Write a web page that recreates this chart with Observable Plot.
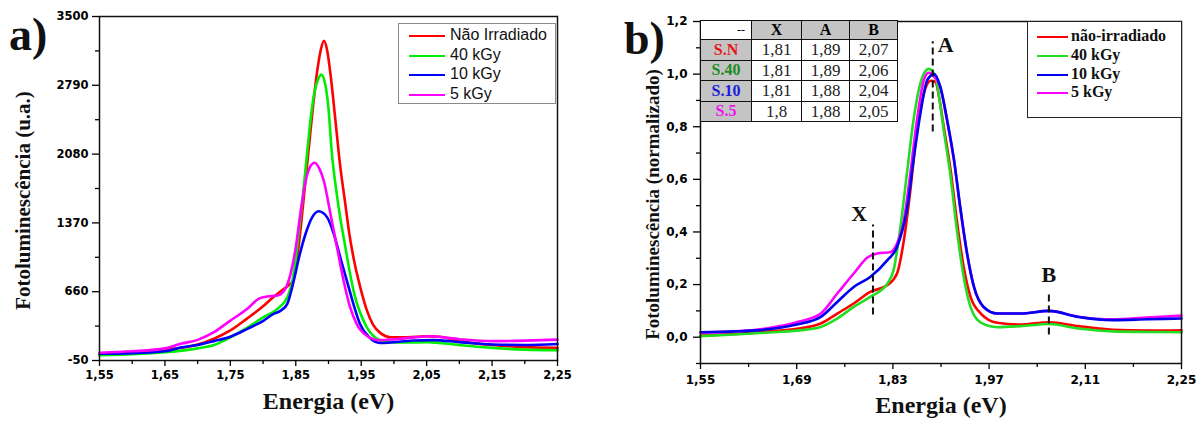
<!DOCTYPE html>
<html><head><meta charset="utf-8">
<script src="https://cdn.jsdelivr.net/npm/d3@7"></script>
<script src="https://cdn.jsdelivr.net/npm/@observablehq/plot@0.6"></script>
<style>
body{margin:0;background:#fff;}
#root{position:relative;width:1202px;height:426px;overflow:hidden;background:#fff;}
.panel{position:absolute;top:0;}
.plabel{position:absolute;font-family:"Liberation Serif",serif;font-weight:bold;font-size:46px;line-height:46px;color:#111;}
.leg{position:absolute;background:#fff;box-sizing:border-box;}
.ent{position:absolute;white-space:nowrap;}
.ent .ln{position:absolute;height:2px;}
.ent .tx{position:absolute;top:0;}
table.tb{position:absolute;left:700px;top:20px;border-collapse:collapse;font-family:"Liberation Serif",serif;background:#fff;}
table.tb td{border:1.5px solid #111;padding:0;text-align:center;vertical-align:middle;line-height:1;}
</style></head><body><div id="root"></div>
<script>
// ---------- Panel a data ----------
const aNames = ["Não Irradiado", "40 kGy", "10 kGy", "5 kGy"];
const aColors = ["#ff0000", "#00ee00", "#0000ff", "#ff00ff"];
const aXTicks = [1.55, 1.65, 1.75, 1.85, 1.95, 2.05, 2.15, 2.25];
const aXMinor = [1.60, 1.70, 1.80, 1.90, 2.00, 2.10, 2.20];
const aYTicks = [-50, 660, 1370, 2080, 2790, 3500];
const aYMinor = [305, 1015, 1725, 2435, 3145];

const aRedE = [1.55, 1.60, 1.65, 1.70, 1.725, 1.75, 1.775, 1.80, 1.815, 1.83, 1.838, 1.846, 1.852, 1.858, 1.864, 1.870, 1.876, 1.882, 1.888, 1.893, 1.898, 1.904, 1.911, 1.918, 1.925, 1.932, 1.94, 1.948, 1.958, 1.968, 1.98, 1.995, 2.02, 2.05, 2.07, 2.10, 2.15, 2.20, 2.25];
const aRedV = [15, 30, 60, 115, 175, 260, 380, 510, 600, 680, 720, 780, 1000, 1350, 1750, 2150, 2550, 2900, 3150, 3250, 3150, 2850, 2400, 1950, 1600, 1250, 950, 720, 480, 320, 230, 190, 190, 200, 195, 150, 110, 88, 80];

const aGreenE = [1.55, 1.60, 1.65, 1.70, 1.725, 1.75, 1.776, 1.80, 1.822, 1.837, 1.845, 1.85, 1.855, 1.86, 1.866, 1.872, 1.878, 1.884, 1.889, 1.895, 1.90, 1.905, 1.912, 1.918, 1.925, 1.932, 1.94, 1.948, 1.958, 1.973, 1.99, 2.02, 2.05, 2.10, 2.15, 2.20, 2.25];
const aGreenV = [5, 15, 35, 75, 110, 190, 290, 395, 483, 603, 775, 1000, 1300, 1600, 2000, 2400, 2700, 2850, 2900, 2800, 2550, 2100, 1700, 1420, 1150, 880, 620, 450, 300, 180, 140, 135, 140, 110, 80, 62, 55];

const aBlueE = [1.55, 1.60, 1.65, 1.674, 1.70, 1.725, 1.75, 1.776, 1.801, 1.816, 1.827, 1.837, 1.847, 1.855, 1.865, 1.875, 1.885, 1.898, 1.908, 1.918, 1.928, 1.938, 1.948, 1.962, 1.979, 2.03, 2.06, 2.10, 2.15, 2.20, 2.25];
const aBlueV = [20, 25, 45, 85, 110, 150, 195, 277, 362, 431, 465, 535, 775, 1015, 1258, 1427, 1490, 1427, 1258, 1015, 775, 535, 330, 191, 131, 156, 160, 140, 115, 110, 120];

const aMagE = [1.55, 1.60, 1.65, 1.674, 1.70, 1.725, 1.75, 1.776, 1.793, 1.806, 1.822, 1.834, 1.842, 1.85, 1.857, 1.865, 1.872, 1.879, 1.886, 1.893, 1.903, 1.913, 1.923, 1.933, 1.943, 1.958, 1.978, 2.003, 2.056, 2.10, 2.15, 2.20, 2.25];
const aMagV = [30, 45, 75, 122, 163, 242, 362, 483, 586, 610, 620, 689, 844, 1118, 1465, 1800, 1950, 1990, 1930, 1800, 1462, 1118, 775, 500, 328, 208, 160, 170, 200, 170, 150, 155, 165];

// ---------- Panel b data ----------
const bNames = ["não-irradiado", "40 kGy", "10 kGy", "5 kGy"];
const bColors = ["#ff0000", "#22dd22", "#0000ee", "#ff00ff"];
const bXTicks = [1.55, 1.69, 1.83, 1.97, 2.11, 2.25];
const bXMinor = [1.62, 1.76, 1.90, 2.04, 2.18];
const bYTicks = [0, 0.2, 0.4, 0.6, 0.8, 1.0, 1.2];
const bYMinor = [-0.1, 0.1, 0.3, 0.5, 0.7, 0.9, 1.1];

const bRedE = [1.55, 1.60, 1.65, 1.69, 1.725, 1.749, 1.773, 1.797, 1.822, 1.836, 1.846, 1.856, 1.865, 1.875, 1.885, 1.892, 1.898, 1.904, 1.914, 1.923, 1.933, 1.943, 1.958, 1.982, 2.016, 2.057, 2.10, 2.15, 2.20, 2.25];
const bRedV = [0.006, 0.012, 0.022, 0.032, 0.052, 0.09, 0.128, 0.172, 0.198, 0.242, 0.369, 0.572, 0.787, 0.926, 0.975, 0.97, 0.9, 0.80, 0.635, 0.445, 0.267, 0.153, 0.09, 0.055, 0.048, 0.057, 0.042, 0.028, 0.025, 0.026];

const bGreenE = [1.55, 1.60, 1.65, 1.69, 1.725, 1.749, 1.773, 1.797, 1.822, 1.831, 1.841, 1.851, 1.860, 1.870, 1.882, 1.892, 1.898, 1.904, 1.914, 1.923, 1.933, 1.943, 1.958, 1.982, 2.016, 2.057, 2.10, 2.15, 2.20, 2.25];
const bGreenV = [0.004, 0.01, 0.018, 0.025, 0.039, 0.071, 0.115, 0.153, 0.204, 0.255, 0.42, 0.635, 0.825, 0.965, 1.02, 0.99, 0.9, 0.787, 0.61, 0.41, 0.23, 0.115, 0.055, 0.038, 0.042, 0.05, 0.033, 0.022, 0.02, 0.019];

const bBlueE = [1.55, 1.60, 1.637, 1.69, 1.725, 1.749, 1.773, 1.797, 1.822, 1.836, 1.851, 1.860, 1.870, 1.880, 1.890, 1.899, 1.909, 1.919, 1.928, 1.938, 1.948, 1.962, 1.982, 2.016, 2.057, 2.10, 2.15, 2.20, 2.25];
const bBlueV = [0.019, 0.022, 0.027, 0.048, 0.077, 0.134, 0.191, 0.229, 0.293, 0.343, 0.495, 0.673, 0.85, 0.977, 1.0, 0.952, 0.825, 0.673, 0.495, 0.318, 0.191, 0.115, 0.09, 0.09, 0.10, 0.077, 0.065, 0.068, 0.071];

const bMagE = [1.55, 1.60, 1.65, 1.69, 1.725, 1.749, 1.773, 1.793, 1.807, 1.827, 1.836, 1.846, 1.856, 1.865, 1.875, 1.882, 1.890, 1.899, 1.909, 1.919, 1.928, 1.938, 1.948, 1.962, 1.982, 2.016, 2.057, 2.10, 2.15, 2.20, 2.25];
const bMagV = [0.017, 0.022, 0.035, 0.057, 0.09, 0.166, 0.242, 0.303, 0.318, 0.324, 0.356, 0.445, 0.635, 0.825, 0.977, 1.005, 0.99, 0.95, 0.82, 0.67, 0.49, 0.315, 0.19, 0.115, 0.09, 0.09, 0.10, 0.078, 0.068, 0.075, 0.082];

// annotations (peak markers) in panel b
const annNames = ["X", "A", "B"];
const annE = [1.801, 1.888, 2.057];
const annLow = [0.084, 0.78, 0.008];
const annHigh = [0.426, 1.123, 0.16];
const annLabelE = [1.781, 1.907, 2.057];
const annLabelV = [0.47, 1.11, 0.236];

// table in panel b
const tableHead = ["--", "X", "A", "B"];
const tableRows = ["S.N", "S.40", "S.10", "S.5"];
const tableRowColors = ["#e8141b", "#1e8a1e", "#1a1adc", "#ee10ee"];
const tableX = ["1,81", "1,81", "1,81", "1,8"];
const tableA = ["1,89", "1,89", "1,88", "1,88"];
const tableB = ["2,07", "2,06", "2,04", "2,05"];

// ---------- helpers ----------
const rows = (E, V) => E.map((e, i) => ({e, v: V[i]}));
const comma = (d, n) => d.toFixed(n).replace(".", ",");
const serif = "Liberation Serif, Times New Roman, serif";
const sans = "Liberation Sans, Arial, sans-serif";
const tickFont = "DejaVu Sans, Liberation Sans, sans-serif";

const root = document.getElementById("root");

function panel(left, width, opts) {
  const div = document.createElement("div");
  div.className = "panel";
  div.style.left = left + "px";
  div.style.width = width + "px";
  div.appendChild(Plot.plot(opts));
  root.appendChild(div);
}

// ---------- Panel a ----------
const aSeries = [[aRedE, aRedV], [aGreenE, aGreenV], [aBlueE, aBlueV], [aMagE, aMagV]];
panel(0, 600, {
  width: 600, height: 426,
  marginLeft: 99, marginRight: 43, marginTop: 16, marginBottom: 66,
  x: {domain: [1.55, 2.25]},
  y: {domain: [-50, 3500]},
  style: {fontFamily: tickFont, fontSize: "11.5px", fontWeight: "bold", overflow: "visible", background: "transparent"},
  marks: [
    ...aSeries.map(([E, V], i) => Plot.line(rows(E, V), {x: "e", y: "v", stroke: aColors[i], strokeWidth: 2.6, curve: "monotone-x"})),
    Plot.frame({stroke: "#111", strokeWidth: 1.5}),
    Plot.axisX({ticks: aXTicks, tickSize: 6, tickPadding: 4, tickFormat: d => comma(d, 2), label: null, strokeWidth: 1.3, fontSize: 11.5, fontWeight: "bold", fontFamily: tickFont}),
    Plot.axisX({ticks: aXMinor, tickSize: 4, tickFormat: () => "", label: null, strokeWidth: 1.3}),
    Plot.axisY({ticks: aYTicks, tickSize: 7, tickPadding: 4, tickFormat: d => String(d), label: null, strokeWidth: 1.3, fontSize: 11.5, fontWeight: "bold", fontFamily: tickFont}),
    Plot.axisY({ticks: aYMinor, tickSize: 4, tickFormat: () => "", label: null, strokeWidth: 1.3}),
    Plot.text(["Energia (eV)"], {frameAnchor: "bottom", dy: 48, text: d => d, fontFamily: serif, fontSize: 24, fontWeight: "bold", fill: "#111"}),
    Plot.text(["Fotoluminescência (u.a.)"], {frameAnchor: "left", textAnchor: "middle", rotate: -90, dx: -76, dy: 12, text: d => d, fontFamily: serif, fontSize: 21, fontWeight: "bold", fill: "#111"})
  ]
});

// ---------- Panel b ----------
const bSeries = [[bRedE, bRedV, 0], [bGreenE, bGreenV, 1], [bMagE, bMagV, 3], [bBlueE, bBlueV, 2]];
panel(600, 602, {
  width: 602, height: 426,
  marginLeft: 100, marginRight: 21, marginTop: 21, marginBottom: 63,
  x: {domain: [1.55, 2.25]},
  y: {domain: [-0.1, 1.2]},
  style: {fontFamily: tickFont, fontSize: "11.5px", fontWeight: "bold", overflow: "visible", background: "transparent"},
  marks: [
    ...bSeries.map(([E, V, c]) => Plot.line(rows(E, V), {x: "e", y: "v", stroke: bColors[c], strokeWidth: 2.6, curve: "monotone-x"})),
    Plot.ruleX(annNames, {x: (d, i) => annE[i], y1: (d, i) => annLow[i], y2: (d, i) => annHigh[i], stroke: "#111", strokeWidth: 2, strokeDasharray: "7,4"}),
    Plot.text(annNames, {x: (d, i) => annLabelE[i], y: (d, i) => annLabelV[i], text: d => d, fontFamily: serif, fontSize: 22, fontWeight: "bold", fill: "#111"}),
    Plot.frame({stroke: "#111", strokeWidth: 1.5}),
    Plot.axisX({ticks: bXTicks, tickSize: 6, tickPadding: 6, tickFormat: d => comma(d, 2), label: null, strokeWidth: 1.3, fontSize: 12, fontWeight: "bold", fontFamily: tickFont}),
    Plot.axisX({ticks: bXMinor, tickSize: 4, tickFormat: () => "", label: null, strokeWidth: 1.3}),
    Plot.axisY({ticks: bYTicks, tickSize: 7, tickPadding: 6, tickFormat: d => comma(d, 1), label: null, strokeWidth: 1.3, fontSize: 12, fontWeight: "bold", fontFamily: tickFont}),
    Plot.axisY({ticks: bYMinor, tickSize: 4, tickFormat: () => "", label: null, strokeWidth: 1.3}),
    Plot.text(["Energia (eV)"], {frameAnchor: "bottom", dy: 49, text: d => d, fontFamily: serif, fontSize: 24, fontWeight: "bold", fill: "#111"}),
    Plot.text(["Fotoluminescência (normalizado)"], {frameAnchor: "left", textAnchor: "middle", rotate: -90, dx: -48, dy: 12, text: d => d, fontFamily: serif, fontSize: 19, fontWeight: "bold", fill: "#111"})
  ]
});

// ---------- panel labels ----------
[["a)", 9, 12], ["b)", 624, 16]].forEach(([t, x, y]) => {
  const d = document.createElement("div");
  d.className = "plabel";
  d.style.left = x + "px"; d.style.top = y + "px";
  d.textContent = t;
  root.appendChild(d);
});

// ---------- legends ----------
function legend(box, names, colors, ent) {
  const lg = document.createElement("div");
  lg.className = "leg";
  Object.assign(lg.style, box);
  names.forEach((n, i) => {
    const e = document.createElement("div");
    e.className = "ent";
    e.style.left = "0px";
    e.style.top = (ent.top0 + i * ent.step) + "px";
    const ln = document.createElement("div");
    ln.className = "ln";
    ln.style.left = ent.lineX + "px"; ln.style.width = ent.lineW + "px";
    ln.style.top = ent.lineY + "px";
    ln.style.background = colors[i];
    const tx = document.createElement("div");
    tx.className = "tx";
    tx.style.left = ent.textX + "px";
    tx.style.font = ent.font;
    tx.style.color = "#111";
    tx.textContent = n;
    e.appendChild(ln); e.appendChild(tx);
    lg.appendChild(e);
  });
  root.appendChild(lg);
}
legend({left: "398px", top: "23px", width: "158px", height: "81px", border: "1.5px solid #8a8a8a"},
  aNames, aColors,
  {top0: 2, step: 19.5, lineX: 10, lineW: 36, lineY: 9, textX: 51, font: "16px " + sans});
legend({left: "1027px", top: "21px", width: "155px", height: "97px", border: "1px solid #222"},
  bNames, bColors,
  {top0: 5, step: 18.8, lineX: 9, lineW: 31, lineY: 9, textX: 43, font: "bold 16px " + serif});

// ---------- table ----------
const tb = document.createElement("table");
tb.className = "tb";
const widths = [50, 49, 47, 47];
const gray = "#c4c4c4";
const hr = document.createElement("tr");
tableHead.forEach((h, j) => {
  const td = document.createElement("td");
  td.style.width = widths[j] + "px"; td.style.height = "18px";
  if (j === 0) { td.style.background = "#fff"; td.style.textAlign = "right"; td.style.paddingRight = "6px"; td.style.fontSize = "12px"; td.style.width = (widths[j] - 6) + "px"; }
  else { td.style.background = gray; td.style.fontWeight = "bold"; td.style.fontSize = "16px"; }
  td.textContent = h;
  hr.appendChild(td);
});
tb.appendChild(hr);
tableRows.forEach((r, i) => {
  const tr = document.createElement("tr");
  [r, tableX[i], tableA[i], tableB[i]].forEach((v, j) => {
    const td = document.createElement("td");
    td.style.width = widths[j] + "px"; td.style.height = "19.5px";
    if (j === 0) { td.style.background = gray; td.style.fontWeight = "bold"; td.style.color = tableRowColors[i]; td.style.fontSize = "16px"; }
    else { td.style.background = "#fff"; td.style.fontSize = "17px"; td.style.color = "#222"; }
    td.textContent = v;
    tr.appendChild(td);
  });
  tb.appendChild(tr);
});
root.appendChild(tb);
</script></body></html>
